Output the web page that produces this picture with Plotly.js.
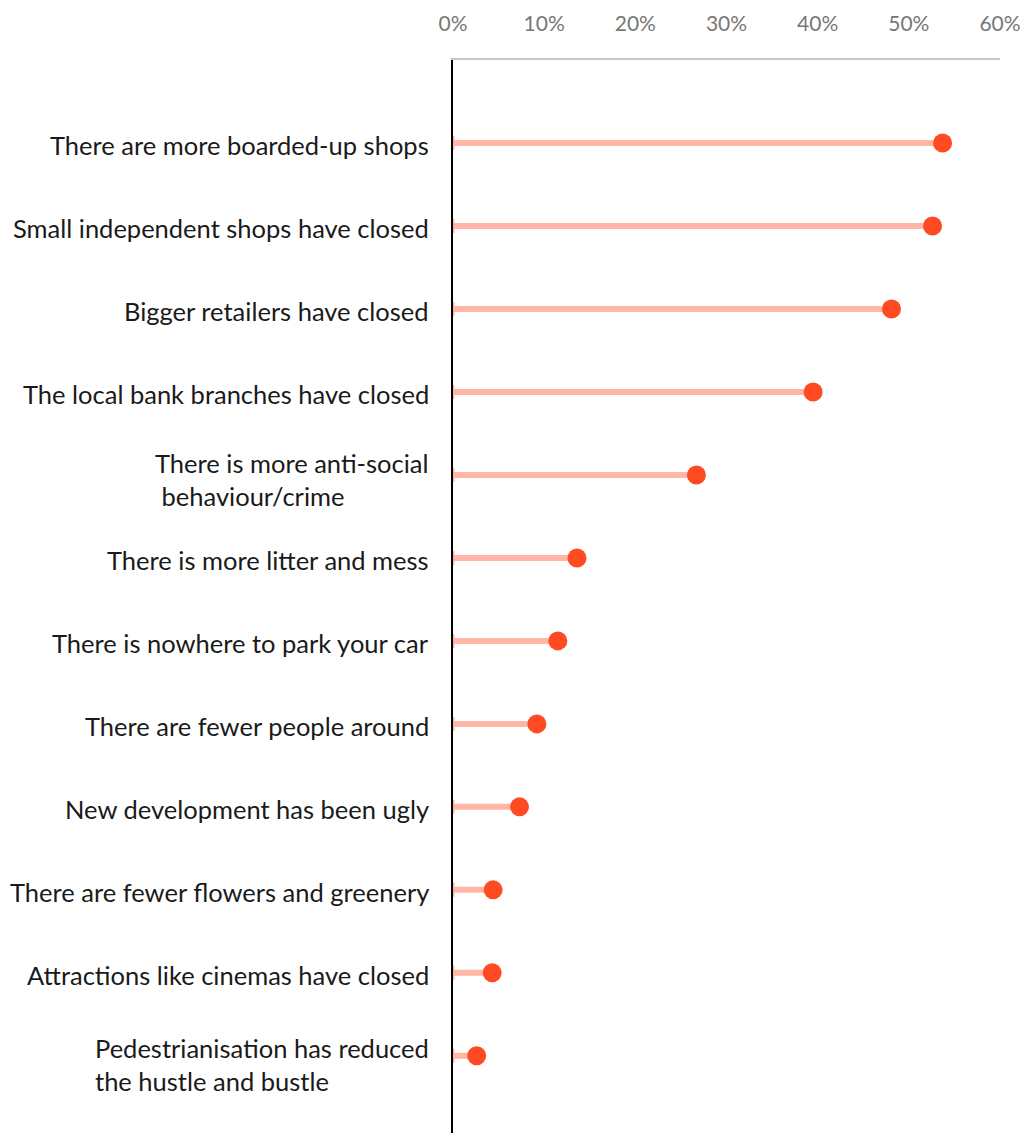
<!DOCTYPE html>
<html>
<head>
<meta charset="utf-8">
<script src="https://cdn.plot.ly/plotly-3.0.1.min.js"></script>
<style>html,body{margin:0;padding:0;background:#fff;}#chart{width:1027px;height:1133px;}</style>
</head>
<body>
<div id="chart"></div>
<script>
const categories = [
  "There are more boarded-up shops",
  "Small independent shops have closed",
  "Bigger retailers have closed",
  "The local bank branches have closed",
  "There is more anti-social<br> behaviour/crime",
  "There is more litter and mess",
  "There is nowhere to park your car",
  "There are fewer people around",
  "New development has been ugly",
  "There are fewer flowers and greenery",
  "Attractions like cinemas have closed",
  "Pedestrianisation has reduced<br>the hustle and bustle"
];
const values = [53.7, 52.6, 48.1, 39.5, 26.7, 13.6, 11.5, 9.2, 7.3, 4.4, 4.3, 2.6];
const labelAlign = ["right","right","right","right","left","right","right","right","right","right","right","left"];
const tickVals = [0, 10, 20, 30, 40, 50, 60];
const tickText = ["0%", "10%", "20%", "30%", "40%", "50%", "60%"];

const idx = categories.map((c, i) => i);
const lx = [], ly = [];
values.forEach((v, i) => { lx.push(0, v, null); ly.push(i, i, null); });

const traces = [
  {
    type: "scatter", mode: "lines", x: lx, y: ly,
    line: {color: "#FFB6A6", width: 6}, hoverinfo: "skip", showlegend: false
  },
  {
    type: "scatter", mode: "markers", x: values.map(() => 0), y: idx,
    marker: {symbol: "line-ns", size: 10, line: {color: "#FFB6A6", width: 3}},
    hoverinfo: "skip", showlegend: false
  },
  {
    type: "scatter", mode: "markers", x: values, y: idx,
    marker: {color: "#FF4A22", size: 19}, showlegend: false
  }
];

const annotations = categories.map((c, i) => {
  const multi = c.indexOf("<br>") >= 0;
  const off = multi ? (i === categories.length - 1 ? 0.1 : 0.05) : 0.02;
  return {
    xref: "paper", yref: "y", x: -0.040, y: i + off,
    xanchor: "right", yanchor: "middle", align: labelAlign[i],
    text: c, showarrow: false,
    font: {family: "Lato, 'Open Sans', sans-serif", size: 25.5, color: "#1a1a1a"}
  };
});

const layout = {
  width: 1027, height: 1133,
  margin: {l: 453, r: 27, t: 60, b: 0, pad: 0},
  paper_bgcolor: "#fff", plot_bgcolor: "#fff",
  xaxis: {
    side: "top", range: [0, 60], tickvals: tickVals, ticktext: tickText,
    showgrid: false, zeroline: false, showline: true, linecolor: "#c8c8c8", linewidth: 2,
    ticks: "outside", ticklen: 19, tickcolor: "rgba(0,0,0,0)",
    tickfont: {family: "Lato, 'Open Sans', sans-serif", size: 21, color: "#777"}
  },
  yaxis: {
    range: [11.93, -1], showticklabels: false, showgrid: false, zeroline: false,
    showline: true, linecolor: "#000", linewidth: 2, ticks: ""
  },
  annotations: annotations
};

Plotly.newPlot("chart", traces, layout, {staticPlot: true});
</script>
</body>
</html>
